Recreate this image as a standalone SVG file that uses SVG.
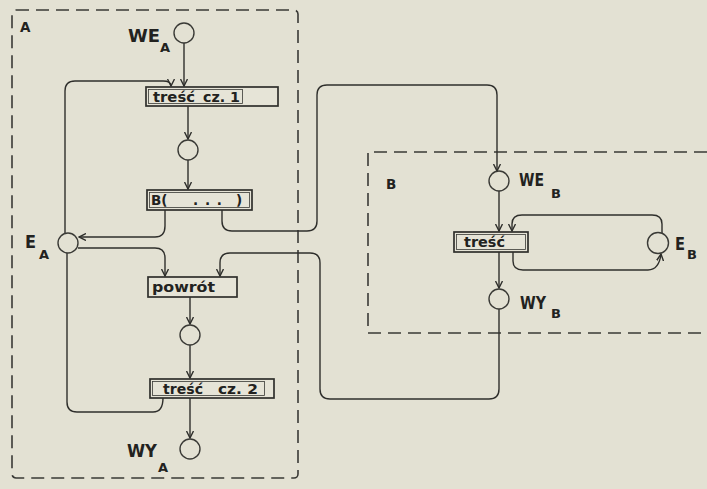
<svg xmlns="http://www.w3.org/2000/svg" width="707" height="489" viewBox="0 0 707 489">
<defs>
<marker id="arr" viewBox="0 0 8 8" refX="7" refY="4" markerWidth="8" markerHeight="8" markerUnits="userSpaceOnUse" orient="auto">
<path d="M0,0.5 L7,4 L0,7.5" fill="none" stroke="#2f2f2c" stroke-width="1.4"/>
</marker>
<style>
.bg{fill:#e3e1d3}
.frame{fill:none;stroke:#3a3a36;stroke-width:1.6;stroke-dasharray:13 7}
.place{fill:none;stroke:#3a3a36;stroke-width:1.4}
.box{fill:#e6e4d7;stroke:#2f2f2c;stroke-width:1.7}
.inner{fill:none;stroke:#3a3a36;stroke-width:0.8}
.edge{fill:none;stroke:#2f2f2c;stroke-width:1.4}
.lbl{font-family:"DejaVu Sans","Liberation Sans",sans-serif;fill:#222220;font-weight:bold}
.big{font-size:18px}
.sub{font-size:13px}
.bt{font-size:13.5px}
</style>
</defs>
<rect class="bg" x="0" y="0" width="707" height="489"/>

<g id="frameA">
<rect class="frame" x="12" y="10" width="286" height="468" rx="4"/>
<text class="lbl bt" x="20" y="32">A</text>
</g>
<g id="frameB">
<path class="frame" d="M707,152 H368 V333 H707"/>
<text class="lbl bt" x="386" y="189">B</text>
</g>

<g id="connectors">
<path class="edge" d="M184,43 V86" marker-end="url(#arr)"/>
<path class="edge" d="M188,106 V139" marker-end="url(#arr)"/>
<path class="edge" d="M188,160 V189" marker-end="url(#arr)"/>
<path class="edge" d="M165,210 V226 Q165,237 155,237 H79" marker-end="url(#arr)"/>
<path class="edge" d="M222,210 V221 Q222,231 232,231 H307 Q317,231 317,221 V95 Q317,85 327,85 H487 Q497,85 497,95 V171" marker-end="url(#arr)"/>
<path class="edge" d="M65,233 V91 Q65,81 75,81 H163 Q171,81 171,86" marker-end="url(#arr)"/>
<path class="edge" d="M78,248 H155 Q165,248 165,258 V276" marker-end="url(#arr)"/>
<path class="edge" d="M163,398 Q163,412 153,412 H77 Q67,412 67,402 V253"/>
<path class="edge" d="M499,309 V389 Q499,399 489,399 H330 Q320,399 320,389 V263 Q320,253 310,253 H230 Q220,253 220,263 V276" marker-end="url(#arr)"/>
<path class="edge" d="M190,297 V324" marker-end="url(#arr)"/>
<path class="edge" d="M190,345 V378" marker-end="url(#arr)"/>
<path class="edge" d="M190,398 V438" marker-end="url(#arr)"/>
<path class="edge" d="M499,191 V231" marker-end="url(#arr)"/>
<path class="edge" d="M499,252 V288" marker-end="url(#arr)"/>
<path class="edge" d="M513,252 V261 Q513,270 523,270 H648 Q659,270 661,254" marker-end="url(#arr)"/>
<path class="edge" d="M662,233 V224 Q662,215 652,215 H522 Q512,215 512,224 V231" marker-end="url(#arr)"/>
</g>

<g id="WE_A">
<circle class="place" cx="184" cy="33" r="10"/>
<text class="lbl big" x="128" y="42" textLength="32" lengthAdjust="spacingAndGlyphs">WE</text>
<text class="lbl sub" x="160" y="52">A</text>
</g>
<g id="tresc1">
<rect class="box" x="146" y="87" width="132" height="19"/>
<rect class="inner" x="148.5" y="89.5" width="94" height="14"/>
<text class="lbl bt" x="153" y="102" textLength="42" lengthAdjust="spacingAndGlyphs">treść</text>
<text class="lbl bt" x="203" y="102" textLength="37" lengthAdjust="spacingAndGlyphs">cz. 1</text>
</g>
<g id="P1">
<circle class="place" cx="188" cy="150" r="10"/>
</g>
<g id="Bcall">
<rect class="box" x="147" y="190" width="105" height="20"/>
<rect class="inner" x="149.5" y="192.5" width="100" height="15"/>
<text class="lbl bt" x="151" y="205">B(</text>
<text class="lbl bt" x="193" y="205" textLength="29" lengthAdjust="spacing">...</text>
<text class="lbl bt" x="236" y="205">)</text>
</g>
<g id="E_A">
<circle class="place" cx="68" cy="243" r="10"/>
<text class="lbl big" x="25" y="248" textLength="11" lengthAdjust="spacingAndGlyphs">E</text>
<text class="lbl sub" x="39" y="259">A</text>
</g>
<g id="powrot">
<rect class="box" x="148" y="277" width="89" height="20"/>
<text class="lbl bt" x="152" y="292" textLength="63" lengthAdjust="spacingAndGlyphs">powrót</text>
</g>
<g id="P2">
<circle class="place" cx="190" cy="335" r="10"/>
</g>
<g id="tresc2">
<rect class="box" x="150" y="379" width="124" height="19"/>
<rect class="inner" x="152.5" y="381.5" width="112" height="14"/>
<text class="lbl bt" x="163" y="394" textLength="40" lengthAdjust="spacingAndGlyphs">treść</text>
<text class="lbl bt" x="218" y="394" textLength="40" lengthAdjust="spacingAndGlyphs">cz. 2</text>
</g>
<g id="WY_A">
<circle class="place" cx="190" cy="449" r="10"/>
<text class="lbl big" x="127" y="457" textLength="30" lengthAdjust="spacingAndGlyphs">WY</text>
<text class="lbl sub" x="158" y="472">A</text>
</g>

<g id="WE_B">
<circle class="place" cx="499" cy="181" r="10"/>
<text class="lbl big" x="519" y="186" textLength="25" lengthAdjust="spacingAndGlyphs">WE</text>
<text class="lbl sub" x="551" y="198">B</text>
</g>
<g id="trescB">
<rect class="box" x="454" y="232" width="74" height="20"/>
<rect class="inner" x="456.5" y="234.5" width="69" height="15"/>
<text class="lbl bt" x="464" y="247" textLength="41" lengthAdjust="spacingAndGlyphs">treść</text>
</g>
<g id="E_B">
<circle class="place" cx="658" cy="243" r="10.5"/>
<text class="lbl big" x="675" y="250" textLength="10" lengthAdjust="spacingAndGlyphs">E</text>
<text class="lbl sub" x="687" y="259">B</text>
</g>
<g id="WY_B">
<circle class="place" cx="499" cy="299" r="10"/>
<text class="lbl big" x="520" y="309" textLength="26" lengthAdjust="spacingAndGlyphs">WY</text>
<text class="lbl sub" x="551" y="318">B</text>
</g>
</svg>
